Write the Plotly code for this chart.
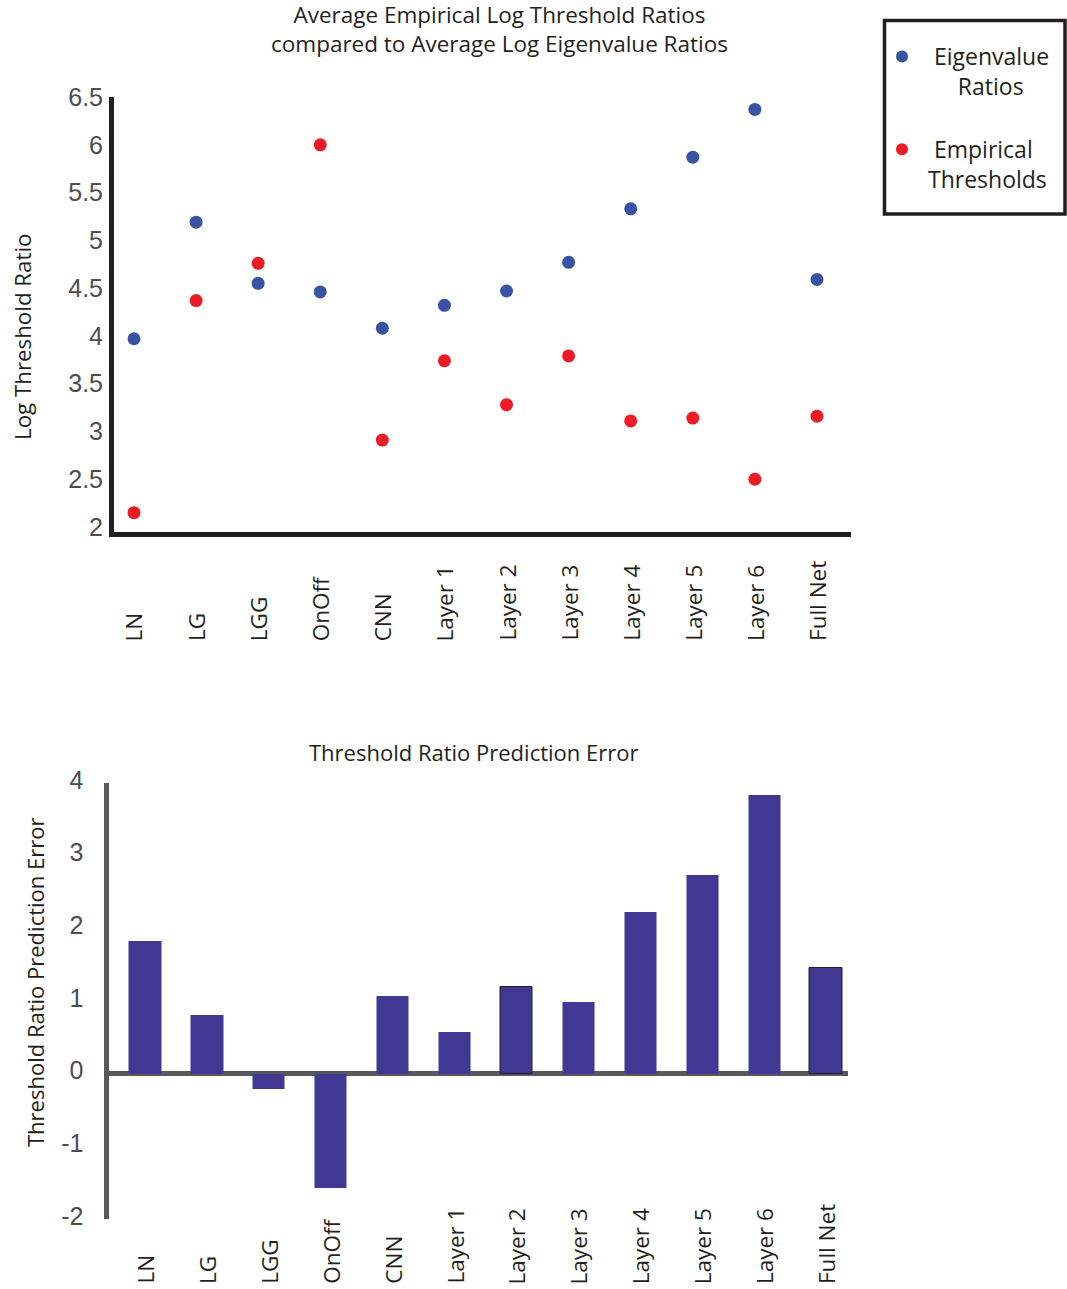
import plotly.graph_objects as go

# ---- data -------------------------------------------------------------
categories = ["LN", "LG", "LGG", "OnOff", "CNN", "Layer 1", "Layer 2",
              "Layer 3", "Layer 4", "Layer 5", "Layer 6", "Full Net"]
eigenvalue_ratios = [3.97, 5.19, 4.55, 4.46, 4.08, 4.32, 4.47, 4.77, 5.33, 5.87, 6.37, 4.59]
empirical_thresholds = [2.15, 4.37, 4.76, 6.00, 2.91, 3.74, 3.28, 3.79, 3.11, 3.14, 2.50, 3.16]
prediction_error = [1.82, 0.81, -0.21, -1.58, 1.07, 0.58, 1.19, 0.99, 2.22, 2.73, 3.84, 1.45]
top_ticks = [2, 2.5, 3, 3.5, 4, 4.5, 5, 5.5, 6, 6.5]
bottom_ticks = [-2, -1, 0, 1, 2, 3, 4]
bottom_tick_labels = ["-2", "-1", "0", "1", "2", "3", "4"]

# ---- styling ------------------------------------------------------------
W, H = 1067, 1289
INK = "#231f20"
TICK_GREY = "#4d4d4f"
AXIS_GREY = "#58595b"
BLUE = "#3953a4"
RED = "#ed1c24"
BAR = "#413894"
TEXT_FONT = "Open Sans"
NUM_FONT = "Liberation Sans"
NB = "\u00a0"


def px_x(p):
    return p / W


def px_y(p):
    return 1 - p / H


fig = go.Figure()

fig.add_trace(go.Scatter(
    x=categories, y=eigenvalue_ratios, mode="markers",
    name=NB * 2 + "Eigenvalue" + NB * 2 + "<br>" + NB * 6 + "Ratios",
    legendgroup="eig",
    marker=dict(color=BLUE, size=13),
    xaxis="x", yaxis="y",
))
fig.add_trace(go.Scatter(
    x=categories, y=empirical_thresholds, mode="markers",
    name=NB * 2 + "Empirical<br>" + NB * 1 + "Thresholds",
    legendgroup="emp",
    marker=dict(color=RED, size=13),
    xaxis="x", yaxis="y",
))

outline = [0, 0, 0, 0, 0, 0, 1, 0, 0, 0, 0, 1]
fig.add_trace(go.Bar(
    x=categories, y=prediction_error, width=0.52,
    marker=dict(color=BAR, line=dict(color=INK, width=outline)),
    showlegend=False, xaxis="x2", yaxis="y2",
))

# ---- axes ---------------------------------------------------------------
fig.update_layout(
    width=W, height=H,
    margin=dict(l=0, r=0, t=0, b=0, autoexpand=False),
    paper_bgcolor="white", plot_bgcolor="white",
    font=dict(family=TEXT_FONT, color=INK, size=22),
    xaxis=dict(
        domain=[px_x(114), px_x(851)], anchor="y", automargin=False,
        type="category", range=[-0.322, 11.548],
        showline=True, linecolor=INK, linewidth=5,
        showticklabels=False, ticks="", showgrid=False, zeroline=False,
    ),
    yaxis=dict(
        domain=[px_y(532), px_y(97)], anchor="x", automargin=False,
        range=[1.948, 6.5],
        tickvals=top_ticks,
        tickfont=dict(family=NUM_FONT, size=25, color=TICK_GREY),
        ticks="", ticklabelstandoff=1,
        showline=True, linecolor=INK, linewidth=5,
        showgrid=False, zeroline=False,
    ),
    xaxis2=dict(
        domain=[px_x(108.5), px_x(848)], anchor="y2", automargin=False,
        type="category", range=[-0.59, 11.355],
        showline=False, showticklabels=False, ticks="",
        showgrid=False, zeroline=False,
    ),
    yaxis2=dict(
        domain=[px_y(1219), px_y(783)], anchor="x2", automargin=False,
        range=[-2, 4],
        tickvals=bottom_ticks, ticktext=bottom_tick_labels,
        tickfont=dict(family=NUM_FONT, size=25, color=TICK_GREY),
        ticks="", ticklabelstandoff=15, ticklabelshift=-3,
        showline=True, linecolor=AXIS_GREY, linewidth=5,
        showgrid=False,
        zeroline=True, zerolinecolor=AXIS_GREY, zerolinewidth=5,
    ),
    legend=dict(
        x=px_x(882), y=px_y(35), xanchor="left", yanchor="top",
        borderwidth=0, bgcolor="rgba(0,0,0,0)",
        font=dict(family=TEXT_FONT, size=23, color=INK),
        valign="top", tracegroupgap=30, itemsizing="constant",
    ),
    bargap=0,
)

# legend frame
fig.add_shape(type="rect", xref="paper", yref="paper",
              x0=px_x(884.5), x1=px_x(1065), y0=px_y(214), y1=px_y(20.5),
              line=dict(color=INK, width=3.5), fillcolor="rgba(0,0,0,0)")

# ---- titles and labels ----------------------------------------------------
annotations = [
    dict(text="Average Empirical Log Threshold Ratios<br>compared to Average Log Eigenvalue Ratios",
         xref="paper", yref="paper", x=px_x(499), y=px_y(-3), xanchor="center", yanchor="top",
         showarrow=False, font=dict(size=22.5)),
    dict(text="Threshold Ratio Prediction Error",
         xref="paper", yref="paper", x=px_x(473), y=px_y(752), xanchor="center", yanchor="middle",
         showarrow=False, font=dict(size=22)),
    dict(text="Log Threshold Ratio", textangle=-90,
         xref="paper", yref="paper", x=px_x(22), y=px_y(337), xanchor="center", yanchor="middle",
         showarrow=False, font=dict(size=22.3)),
    dict(text="Threshold Ratio Prediction Error", textangle=-90,
         xref="paper", yref="paper", x=px_x(35), y=px_y(983), xanchor="center", yanchor="middle",
         showarrow=False, font=dict(size=22)),
]
for cat in categories:
    annotations.append(dict(text=cat, textangle=-90, xref="x", yref="paper",
                            x=cat, y=px_y(643), xanchor="center", yanchor="bottom",
                            showarrow=False, font=dict(size=22.5)))
    annotations.append(dict(text=cat, textangle=-90, xref="x2", yref="paper",
                            x=cat, y=px_y(1286), xanchor="center", yanchor="bottom",
                            showarrow=False, font=dict(size=22.5)))
fig.update_layout(annotations=annotations)

fig.write_html("out.html")
